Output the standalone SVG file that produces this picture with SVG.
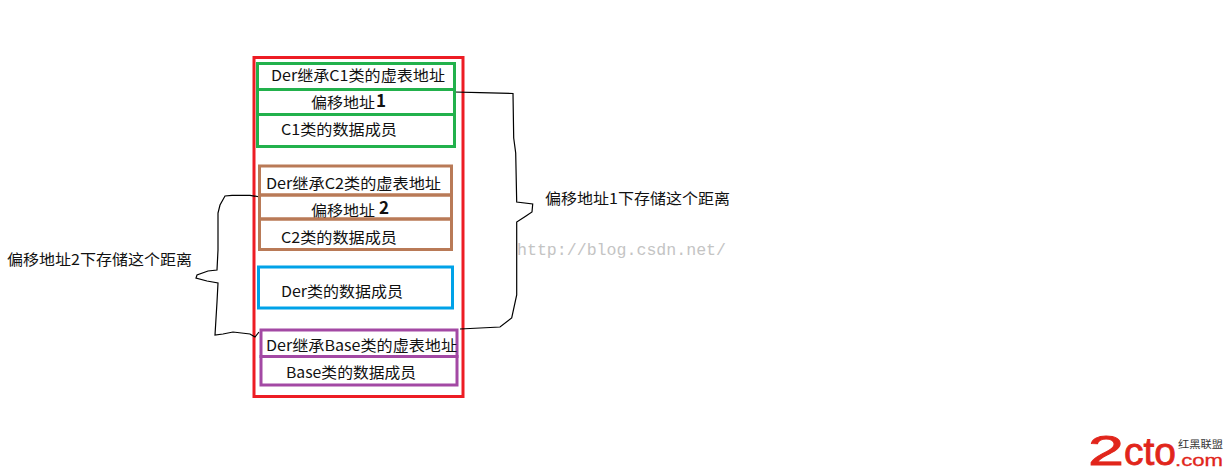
<svg xmlns="http://www.w3.org/2000/svg" width="1225" height="476" viewBox="0 0 1225 476">
<style>
text{font-family:"Noto Sans CJK SC","Liberation Sans",sans-serif;font-size:15px;fill:#111}
.box{fill:none;stroke-width:3}
.g{stroke:#22b14c}.b{stroke:#b97a57}.p{stroke:#a349a4}
.c{fill:none;stroke:#000;stroke-width:1.2}
.bold{font-weight:700;font-size:17px}
.logo{font-family:"Liberation Sans",sans-serif;fill:#e1251b;stroke:#e1251b;stroke-width:.8}
</style>
<rect width="1225" height="476" fill="#fff"/>
<g id="outer"><rect x="254" y="57.500" width="209" height="339" fill="none" stroke="#ed1c24" stroke-width="3"/></g>
<g id="connectors">
<path class="c" d="M454 92L480 92.600L513 93.500L513.700 138L515.700 153L516.700 202L532.700 204L532 212L526 216L516.700 222L516.700 295L511.700 318L500 327L460 329"/>
<path class="c" d="M260 197L250 195.300L232 195.300L225 196L220 205L218 213L218 250L217 270L208 271L197 275L196 278L207 281L218 283L217 302L215 335L223 334L233 332L250 334L255 337L259 332"/>
</g>
<g id="der-c1-vptr"><rect class="box g" x="257.500" y="63.500" width="197" height="26"/><text x="271" y="81" textLength="174" lengthAdjust="spacingAndGlyphs">Der继承C1类的虚表地址</text></g>
<g id="offset-1"><rect class="box g" x="257.500" y="89.500" width="197" height="25"/><text x="311" y="108" textLength="64" lengthAdjust="spacingAndGlyphs">偏移地址</text><text class="bold" x="376" y="107">1</text></g>
<g id="c1-data"><rect class="box g" x="257.500" y="114.500" width="197" height="32"/><text x="281" y="135" textLength="116" lengthAdjust="spacingAndGlyphs">C1类的数据成员</text></g>
<g id="der-c2-vptr"><rect class="box b" x="259.500" y="166" width="192" height="29"/><text x="266" y="189" textLength="175" lengthAdjust="spacingAndGlyphs">Der继承C2类的虚表地址</text></g>
<g id="offset-2"><rect class="box b" x="259.500" y="195" width="192" height="24"/><text x="311" y="216" textLength="64" lengthAdjust="spacingAndGlyphs">偏移地址</text><text class="bold" x="379" y="214">2</text></g>
<g id="c2-data"><rect class="box b" x="259.500" y="219" width="192" height="30.500"/><text x="281" y="243" textLength="116" lengthAdjust="spacingAndGlyphs">C2类的数据成员</text></g>
<g id="der-data"><rect class="box" x="258.500" y="267" width="194" height="41" stroke="#00a2e8"/><text x="281" y="297" textLength="122" lengthAdjust="spacingAndGlyphs">Der类的数据成员</text></g>
<g id="der-base-vptr"><rect class="box p" x="261" y="330" width="196" height="26.500"/><text x="266" y="351" textLength="191" lengthAdjust="spacingAndGlyphs">Der继承Base类的虚表地址</text></g>
<g id="base-data"><rect class="box p" x="261" y="356.500" width="196" height="28.500"/><text x="286" y="378" textLength="130" lengthAdjust="spacingAndGlyphs">Base类的数据成员</text></g>
<g id="label-1"><text x="545" y="204" textLength="185" lengthAdjust="spacingAndGlyphs">偏移地址1下存储这个距离</text></g>
<g id="label-2"><text x="7" y="265" textLength="185" lengthAdjust="spacingAndGlyphs">偏移地址2下存储这个距离</text></g>
<text x="517" y="255" textLength="209" lengthAdjust="spacingAndGlyphs" style="font-family:'Liberation Mono',monospace;font-size:16px;fill:#c4c4c4">http://blog.csdn.net/</text>
<g id="logo">
<text class="logo" x="1088" y="465" textLength="36" lengthAdjust="spacingAndGlyphs" style="font-size:43px">2</text>
<text class="logo" x="1124" y="465" textLength="52" lengthAdjust="spacingAndGlyphs" style="font-size:38px">cto</text>
<text x="1178" y="448" textLength="45" lengthAdjust="spacingAndGlyphs" style="font-size:10px;fill:#333">红黑联盟</text>
<text class="logo" x="1175" y="466" textLength="48" lengthAdjust="spacingAndGlyphs" style="font-size:17px;stroke-width:.3">.com</text>
</g>
</svg>
